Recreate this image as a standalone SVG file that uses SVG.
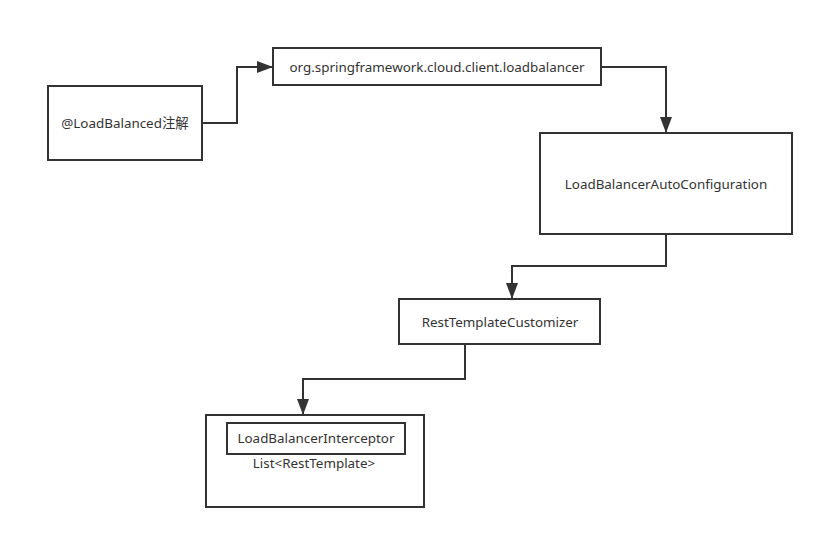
<svg xmlns="http://www.w3.org/2000/svg" width="824" height="539" viewBox="0 0 824 539">
<style>
.box{fill:#fff;stroke:#333;stroke-width:2}
.t{font-family:"Noto Sans","Noto Sans CJK SC",sans-serif;font-size:13.4px;fill:#333;text-anchor:middle;dominant-baseline:central}
.c{fill:none;stroke:#333;stroke-width:2}
</style>
<defs>
<marker id="ah" markerWidth="16" markerHeight="12" refX="15" refY="6" orient="auto" markerUnits="userSpaceOnUse">
<path d="M0,0 L16,6 L0,12 Z" fill="#333"/>
</marker>
</defs>
<rect width="824" height="539" fill="#fff"/>
<g id="connectors">
<path class="c" d="M202,123 H237 V67 H272" marker-end="url(#ah)"/>
<path class="c" d="M601,67 H666 V132" marker-end="url(#ah)"/>
<path class="c" d="M666,234 V266 H512 V298" marker-end="url(#ah)"/>
<path class="c" d="M465,344 V379 H303 V414" marker-end="url(#ah)"/>
</g>
<g id="n1"><rect class="box" x="48" y="86" width="154" height="74"/><text class="t" x="125" y="123">@LoadBalanced注解</text></g>
<g id="n2"><rect class="box" x="273" y="48" width="328" height="37"/><text class="t" x="437" y="67">org.springframework.cloud.client.loadbalancer</text></g>
<g id="n3"><rect class="box" x="540" y="133" width="252" height="101"/><text class="t" x="666" y="184">LoadBalancerAutoConfiguration</text></g>
<g id="n4"><rect class="box" x="399" y="299" width="201" height="45"/><text class="t" x="500" y="322">RestTemplateCustomizer</text></g>
<g id="n5"><rect class="box" x="206" y="415" width="218" height="92"/>
<rect class="box" x="227" y="423" width="178" height="31"/><text class="t" x="316" y="438">LoadBalancerInterceptor</text>
<text class="t" x="314" y="463">List&lt;RestTemplate&gt;</text></g>
</svg>
